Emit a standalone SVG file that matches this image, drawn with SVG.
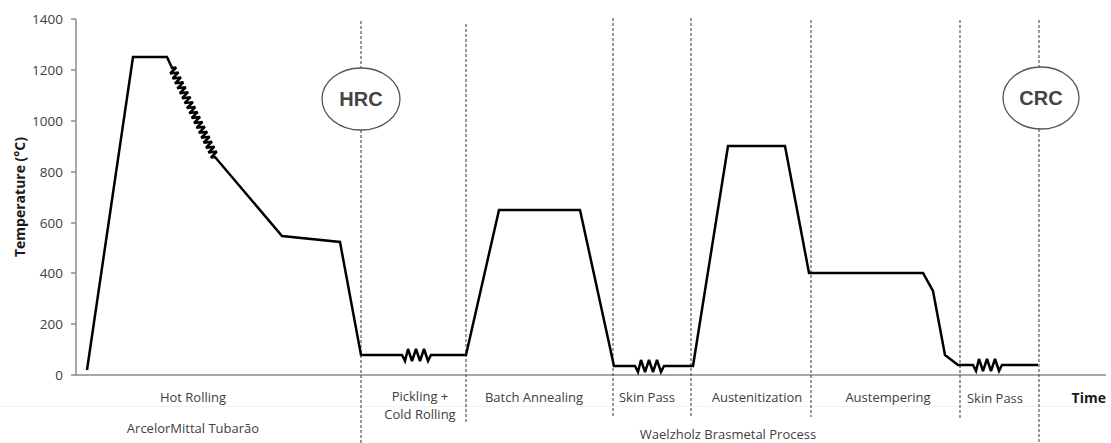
<svg xmlns="http://www.w3.org/2000/svg" width="1111" height="443" viewBox="0 0 1111 443">
<style>
.lbl{font-family:"Open Sans","Noto Sans","Liberation Sans",sans-serif;font-size:13px;fill:#404040;text-anchor:middle}
.tick{font-family:"Open Sans","Noto Sans","Liberation Sans",sans-serif;font-size:13.5px;fill:#404040;text-anchor:end}
.ttl{font-family:"Open Sans","Noto Sans","Liberation Sans",sans-serif;font-size:14px;font-weight:bold;fill:#1a1a1a}
.dash{stroke:#555;stroke-width:1.2;stroke-dasharray:3,2;fill:none}
.axis{stroke:#8c8c8c;stroke-width:1.5;fill:none}
.curve{stroke:#000;stroke-width:2.5;fill:none;stroke-linejoin:miter;stroke-miterlimit:3}
.oval{fill:#fff;stroke:#555;stroke-width:1.3}
.ovtxt{font-family:"Liberation Sans",Arial,sans-serif;font-size:20px;font-weight:bold;fill:#444;text-anchor:middle}
</style>
<rect width="1111" height="443" fill="#fff"/>
<line x1="0" y1="406.5" x2="1111" y2="406.5" stroke="#f4f4f4" stroke-width="1"/>
<g id="axes">
<path class="axis" d="M76,19 V375 H1106"/>
<path class="axis" d="M71,19 H76 M71,70 H76 M71,121 H76 M71,172 H76 M71,223 H76 M71,273 H76 M71,324 H76 M71,375 H76"/>
<text class="tick" x="63" y="23.5">1400</text>
<text class="tick" x="63" y="74.5">1200</text>
<text class="tick" x="63" y="125.5">1000</text>
<text class="tick" x="63" y="176.5">800</text>
<text class="tick" x="63" y="227.5">600</text>
<text class="tick" x="63" y="277.5">400</text>
<text class="tick" x="63" y="328.5">200</text>
<text class="tick" x="63" y="379.5">0</text>
<text class="ttl" transform="translate(25,197) rotate(-90)" text-anchor="middle">Temperature (°C)</text>
<text class="ttl" x="1106" y="403" text-anchor="end">Time</text>
</g>
<g id="connectors">
<path class="dash" d="M361,21 V68 M361,130 V443"/>
<path class="dash" d="M466,24 V422"/>
<path class="dash" d="M613,18 V417"/>
<path class="dash" d="M691,18 V417"/>
<path class="dash" d="M811,20 V417"/>
<path class="dash" d="M960,20 V420"/>
<path class="dash" d="M1039,20 V67 M1039,129 V443"/>
</g>
<g id="curve">
<path class="curve" d="M87,370 L133,57 L167,57 L172,68 L176.20,67.50 L170.19,73.45 L178.59,72.44 L172.58,78.40 L180.97,77.39 L174.97,83.34 L183.36,82.34 L177.36,88.29 L185.75,87.28 L179.74,93.24 L188.14,92.23 L182.13,98.18 L190.53,97.18 L184.52,103.13 L192.91,102.12 L186.91,108.08 L195.30,107.07 L189.30,113.02 L197.69,112.02 L191.68,117.97 L200.08,116.96 L194.07,122.92 L202.47,121.91 L196.46,127.86 L204.85,126.86 L198.85,132.81 L207.24,131.80 L201.24,137.76 L209.63,136.75 L203.62,142.70 L212.02,141.70 L206.01,147.65 L214.41,146.64 L208.40,152.60 L216.79,151.59 L210.79,157.54 L215,157 L282,236 L340,242 L361,355 L402,355 L405,361 L408,349 L412,361 L416,349 L420,361 L424,349 L428,361 L431,355 L466,355 L499,210 L580,210 L614,366 L635,366 L638,372 L641,360 L645,372 L649,360 L653,372 L657,360 L661,372 L664,366 L693,366 L728,146 L785,146 L809,273 L923,273 L933,291 L945,355 L958,365 L973,365 L976,371 L979,359 L983,371 L987,359 L991,371 L995,359 L999,371 L1002,365 L1038,365"/>
</g>
<g id="node-hrc">
<ellipse class="oval" cx="361" cy="99" rx="39" ry="31"/>
<text class="ovtxt" x="361" y="106">HRC</text>
</g>
<g id="node-crc">
<ellipse class="oval" cx="1041" cy="98" rx="38" ry="31"/>
<text class="ovtxt" x="1041" y="105">CRC</text>
</g>
<g id="labels">
<text class="lbl" x="193" y="402">Hot Rolling</text>
<text class="lbl" x="193" y="433">ArcelorMittal Tubarão</text>
<text class="lbl" x="420" y="401">Pickling +</text>
<text class="lbl" x="420" y="419">Cold Rolling</text>
<text class="lbl" x="534" y="402">Batch Annealing</text>
<text class="lbl" x="647" y="402">Skin Pass</text>
<text class="lbl" x="757" y="402">Austenitization</text>
<text class="lbl" x="888" y="402">Austempering</text>
<text class="lbl" x="995" y="403">Skin Pass</text>
<text class="lbl" x="728" y="439">Waelzholz Brasmetal Process</text>
</g>
</svg>
